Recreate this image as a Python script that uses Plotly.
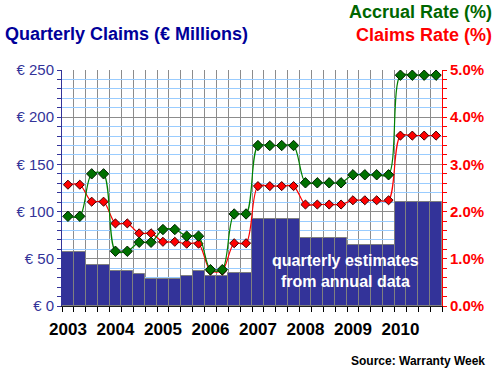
import plotly.graph_objects as go

years = ["2003", "2004", "2005", "2006", "2007", "2008", "2009", "2010"]
quarter_index = list(range(32))
claims = [57.4, 57.4, 43.2, 43.2, 37.3, 37.3, 34.0, 28.8,
          28.8, 28.8, 31.6, 37.3, 31.6, 31.6, 34.8, 34.8,
          92.4, 92.4, 92.4, 92.4, 72.2, 72.2, 72.2, 72.2,
          64.8, 64.8, 64.8, 64.8, 110.4, 110.4, 110.4, 110.4]
accrual_rate = [1.90, 1.90, 2.80, 2.80, 1.16, 1.16, 1.35, 1.35,
                1.62, 1.62, 1.48, 1.48, 0.77, 0.77, 1.95, 1.95,
                3.40, 3.40, 3.40, 3.40, 2.61, 2.61, 2.61, 2.61,
                2.78, 2.78, 2.78, 2.78, 4.89, 4.89, 4.89, 4.89]
claims_rate = [2.57, 2.57, 2.21, 2.21, 1.75, 1.75, 1.54, 1.54,
               1.36, 1.36, 1.32, 1.32, 0.75, 0.75, 1.33, 1.33,
               2.54, 2.54, 2.54, 2.54, 2.15, 2.15, 2.15, 2.15,
               2.24, 2.24, 2.24, 2.24, 3.61, 3.61, 3.61, 3.61]
left_ticks = [0, 50, 100, 150, 200, 250]
left_labels = ["€ 0", "€ 50", "€ 100", "€ 150", "€ 200", "€ 250"]
right_ticks = [0, 1, 2, 3, 4, 5]
right_labels = ["0.0%", "1.0%", "2.0%", "3.0%", "4.0%", "5.0%"]

FONT = "Arial, Liberation Sans, sans-serif"
boundaries = [i - 0.5 for i in range(33)]
year_pos = [4 * k for k in range(len(years))]

W, H = 497, 370
L, R, T, B = 62, 55, 70, 64
PW, PH = W - L - R, H - T - B


def px(x):
    return (x - L) / PW


def py(y):
    return (H - B - y) / PH


fig = go.Figure()
fig.add_trace(go.Bar(x=quarter_index, y=claims, width=1,
                     marker=dict(color="#333399", line=dict(color="#808080", width=1)),
                     yaxis="y", showlegend=False, hoverinfo="skip"))
fig.add_trace(go.Scatter(x=quarter_index, y=claims_rate, yaxis="y2", mode="lines+markers",
                         line=dict(color="#ff0000", width=1.2, shape="spline", smoothing=0.9),
                         marker=dict(symbol="diamond", size=7, color="#ff0000",
                                     line=dict(color="#400000", width=1)),
                         showlegend=False))
fig.add_trace(go.Scatter(x=quarter_index, y=accrual_rate, yaxis="y2", mode="lines+markers",
                         line=dict(color="#008000", width=1.2, shape="spline", smoothing=0.9),
                         marker=dict(symbol="diamond", size=8, color="#007000",
                                     line=dict(color="#002000", width=1)),
                         showlegend=False))

fig.update_layout(
    width=W, height=H,
    margin=dict(l=L, r=R, t=T, b=B),
    paper_bgcolor="white", plot_bgcolor="white",
    bargap=0,
    font=dict(family=FONT),
    xaxis=dict(range=[-0.5, 31.5], tickmode="array", tickvals=year_pos, ticktext=years,
               ticks="outside", ticklen=8, tickcolor="rgba(0,0,0,0)",
               tickfont=dict(size=17, color="black", family=FONT, weight="bold"),
               showgrid=False, zeroline=False,
               showline=True, linecolor="#202020", linewidth=1,
               minor=dict(tickmode="array", tickvals=boundaries, ticks="outside", ticklen=5,
                          tickcolor="black", showgrid=True, gridcolor="#8c8c8c", gridwidth=1)),
    yaxis=dict(range=[0, 250], tickmode="array", tickvals=left_ticks, ticktext=left_labels,
               ticks="outside", ticklen=4, tickcolor="#333399",
               tickfont=dict(size=15, color="#333399", family=FONT),
               showgrid=True, gridcolor="#8c8c8c", gridwidth=1, zeroline=False,
               showline=True, linecolor="#333399", linewidth=1,
               minor=dict(dtick=10, ticks="outside", ticklen=4, tickcolor="#333399",
                          showgrid=True, gridcolor="#99ccff", gridwidth=1)),
    yaxis2=dict(range=[0, 5], overlaying="y", side="right", tickmode="array",
                tickvals=right_ticks, ticktext=right_labels,
                ticks="outside", ticklen=4, tickcolor="#ff0000",
                tickfont=dict(size=15, color="#ff0000", family=FONT, weight="bold"),
                showgrid=False, zeroline=False,
                showline=True, linecolor="#ff0000", linewidth=1,
                minor=dict(dtick=0.2, ticks="outside", ticklen=4, tickcolor="#ff0000")),
)

fig.add_annotation(xref="paper", yref="paper", x=px(3), y=py(34), xanchor="left", yanchor="middle",
                   text="<b>Quarterly Claims (€ Millions)</b>", showarrow=False,
                   font=dict(size=18, color="#000099", family=FONT))
fig.add_annotation(xref="paper", yref="paper", x=px(494), y=py(12), xanchor="right", yanchor="middle",
                   text="<b>Accrual Rate (%)</b>", showarrow=False,
                   font=dict(size=18, color="#006600", family=FONT))
fig.add_annotation(xref="paper", yref="paper", x=px(494), y=py(35), xanchor="right", yanchor="middle",
                   text="<b>Claims Rate (%)</b>", showarrow=False,
                   font=dict(size=18, color="#ff0000", family=FONT))
fig.add_annotation(xref="paper", yref="paper", x=px(345), y=py(271), xanchor="center", yanchor="middle",
                   text="<b>quarterly estimates<br>from annual data</b>", showarrow=False,
                   font=dict(size=16, color="white", family=FONT))
fig.add_annotation(xref="paper", yref="paper", x=px(487), y=py(361), xanchor="right", yanchor="middle",
                   text="<b>Source: Warranty Week</b>", showarrow=False,
                   font=dict(size=12, color="black", family=FONT))

fig.write_html("out.html", config={"displayModeBar": False},
               post_script="document.body.style.margin='0';document.body.style.overflow='hidden';")
